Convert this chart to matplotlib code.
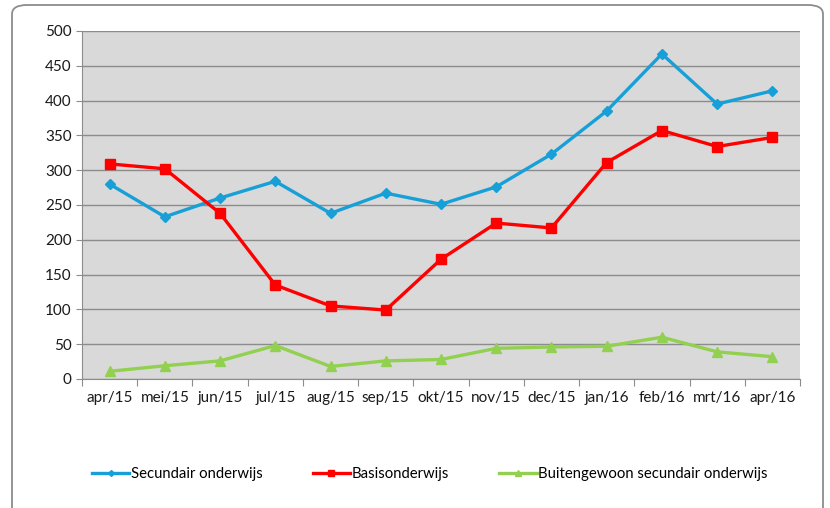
import numpy as np
import matplotlib.pyplot as plt
from matplotlib.patches import FancyBboxPatch

months = ['apr/15', 'mei/15', 'jun/15', 'jul/15', 'aug/15', 'sep/15', 'okt/15',
          'nov/15', 'dec/15', 'jan/16', 'feb/16', 'mrt/16', 'apr/16']
secundair = [280, 233, 260, 284, 238, 267, 251, 276, 323, 385, 467, 395, 414]
basis = [309, 302, 238, 135, 105, 99, 172, 224, 217, 311, 357, 334, 347]
buitengewoon = [11, 19, 26, 48, 18, 26, 28, 44, 46, 47, 60, 39, 32]

plt.rcParams['font.family'] = ['Lato', 'DejaVu Sans']

fig = plt.figure(figsize=(8.3, 5.08), dpi=100)
# rounded chart frame, runs off the bottom edge
border = FancyBboxPatch((12 / 830, -0.015), 811 / 830, 1 - 5 / 508 + 0.015,
                        boxstyle='round,pad=0,rounding_size=0.018',
                        transform=fig.transFigure, fc='white', ec='#8c8c8c', lw=1.3, zorder=-10)
fig.patches.append(border)

ax = fig.add_axes([0.0988, 0.254, 0.865, 0.685])
ax.set_facecolor('#d9d9d9')
x = np.arange(len(months)) + 0.5

ax.plot(x, secundair, color='#17a0d8', lw=2.4, marker='D', ms=5, label='Secundair onderwijs', zorder=3)
ax.plot(x, basis, color='#ff0000', lw=2.4, marker='s', ms=6.5, label='Basisonderwijs', zorder=3)
ax.plot(x, buitengewoon, color='#92d050', lw=2.4, marker='^', ms=6.5, label='Buitengewoon secundair onderwijs', zorder=3)

ax.set_xlim(0, len(months))
ax.set_ylim(0, 500)
ax.set_yticks(np.arange(0, 501, 50))
ax.yaxis.grid(True, color='#8c8c8c', lw=1.0)
ax.set_axisbelow(True)
ax.set_xticks(np.arange(0, len(months) + 1), minor=False)
ax.set_xticklabels([])
ax.set_xticks(x, minor=True)
ax.set_xticklabels(months, minor=True)
ax.tick_params(axis='x', which='major', length=5, color='#8c8c8c')
ax.tick_params(axis='x', which='minor', length=0, pad=9, labelsize=11, labelcolor='#1a1a1a')
ax.tick_params(axis='y', length=4, color='#8c8c8c', labelsize=11, labelcolor='#1a1a1a')
for s in ['top', 'right']:
    ax.spines[s].set_visible(False)
for s in ['left', 'bottom']:
    ax.spines[s].set_color('#8c8c8c')

fig.legend(loc='center left', bbox_to_anchor=(92 / 830, 0.067), ncol=3, frameon=False,
           fontsize=10.7, handlelength=2.5, handletextpad=0.1, columnspacing=3.4,
           markerscale=0.6, borderaxespad=0, borderpad=0)

fig.savefig('out.png', dpi=100)
